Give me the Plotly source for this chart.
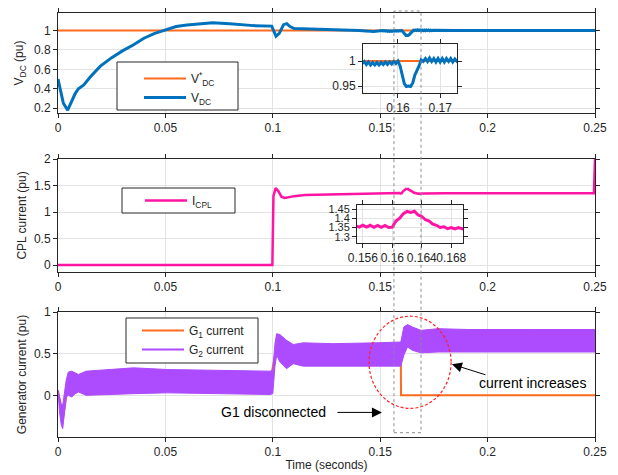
import plotly.graph_objects as go

W, H = 618, 475


def fx(p):
    return p / W


def fy(p):
    return 1 - p / H


# ---------------- data ----------------
vdc_ref_t = [0.0, 0.25]
vdc_ref_v = [1.0, 1.0]

vdc_t = [0.0000, 0.0010, 0.0025, 0.0045, 0.0060, 0.0080, 0.0095, 0.0120, 0.0150, 0.0196,
         0.0250, 0.0300, 0.0350, 0.0400, 0.0450, 0.0490, 0.0550, 0.0600, 0.0660, 0.0720,
         0.0800, 0.0910, 0.0995, 0.1005, 0.1015, 0.1030, 0.1050, 0.1065, 0.1080, 0.1100,
         0.1200, 0.1280, 0.1350, 0.1400, 0.1470,
         0.1500, 0.1505, 0.1510, 0.1515, 0.1520, 0.1525, 0.1530, 0.1535, 0.1540, 0.1545,
         0.1550, 0.1555, 0.1560, 0.1565, 0.1570, 0.1575, 0.1580, 0.1585, 0.1590, 0.1595,
         0.1600, 0.1605, 0.1610, 0.1615, 0.1620, 0.1625, 0.1630, 0.1635, 0.1640, 0.1645,
         0.1650, 0.1655, 0.1660, 0.1665, 0.1670, 0.1675, 0.1680, 0.1685, 0.1690, 0.1695,
         0.1700, 0.1705, 0.1710, 0.1715, 0.1720, 0.1725, 0.1730, 0.1735, 0.1740, 0.1750,
         0.1850, 0.2000, 0.2250, 0.2500]
vdc_v = [0.50, 0.40, 0.25, 0.18, 0.25, 0.35, 0.40, 0.44, 0.52, 0.63,
         0.72, 0.79, 0.85, 0.92, 0.97, 1.00, 1.04, 1.057, 1.07, 1.08,
         1.07, 1.05, 1.045, 1.00, 0.94, 0.97, 1.06, 1.07, 1.04, 1.02,
         1.015, 1.01, 1.005, 1.00, 0.99,
         0.999, 0.994, 1.000, 0.995, 0.999, 0.993, 0.998, 0.992, 0.997, 0.992,
         0.997, 0.992, 0.997, 0.993, 0.998, 0.993, 0.998, 0.994, 0.999, 0.995,
         1.000, 0.990, 0.972, 0.955, 0.949, 0.950, 0.949, 0.956, 0.972, 0.980,
         0.990, 1.002, 0.999, 1.005, 0.999, 1.006, 0.999, 1.005, 0.998, 1.005,
         0.998, 1.005, 0.998, 1.005, 0.999, 1.005, 0.998, 1.004, 0.999, 1.003,
         1.0, 1.0, 1.0, 1.0]

icpl_t = [0.0, 0.0998, 0.1003, 0.1013, 0.1025, 0.1040, 0.1055, 0.1070, 0.1100, 0.1150,
          0.1250, 0.1400, 0.1500,
          0.1550, 0.1555, 0.1560, 0.1565, 0.1570, 0.1575, 0.1580, 0.1585, 0.1590, 0.1595,
          0.1600, 0.1605, 0.1610, 0.1615, 0.1620, 0.1625, 0.1630, 0.1635, 0.1640, 0.1645,
          0.1650, 0.1655, 0.1660, 0.1665, 0.1670, 0.1675, 0.1680, 0.1685, 0.1690, 0.1695,
          0.1700, 0.1800, 0.2000, 0.2495, 0.2500]
icpl_v = [0.0, 0.0, 1.30, 1.45, 1.40, 1.29, 1.265, 1.28, 1.30, 1.32,
          1.33, 1.34, 1.35,
          1.360, 1.352, 1.362, 1.352, 1.362, 1.351, 1.361, 1.351, 1.361, 1.350,
          1.352, 1.385, 1.400, 1.425, 1.437, 1.432, 1.438, 1.418, 1.410, 1.392,
          1.385, 1.368, 1.362, 1.350, 1.354, 1.344, 1.350, 1.342, 1.350, 1.343,
          1.351, 1.355, 1.355, 1.355, 2.0]

g1_t = [0.0, 0.0022, 0.0048, 0.0987, 0.1018, 0.1100, 0.1596, 0.1597, 0.2500]
g1_v = [0.06, -0.30, 0.15, 0.15, 0.60, 0.50, 0.45, 0.0, 0.0]

g2_t = [0.0000, 0.0007, 0.0015, 0.0022, 0.0030, 0.0038, 0.0048, 0.0064, 0.0080, 0.0095,
        0.0131, 0.0196, 0.0352, 0.0507, 0.0740, 0.0987, 0.1000, 0.1010, 0.1018, 0.1033,
        0.1064, 0.1095, 0.1142, 0.1280, 0.1480, 0.1596, 0.1610, 0.1627, 0.1650, 0.1690,
        0.1770, 0.1907, 0.2217, 0.2500]
g2_upper = [0.06, 0.00, -0.10, -0.12, 0.05, 0.18, 0.28, 0.29, 0.27, 0.25,
            0.29, 0.30, 0.33, 0.31, 0.30, 0.29, 0.30, 0.62, 0.74, 0.73,
            0.66, 0.61, 0.63, 0.62, 0.63, 0.64, 0.82, 0.85, 0.82, 0.78,
            0.80, 0.79, 0.79, 0.79]
g2_lower = [0.06, -0.20, -0.35, -0.40, -0.25, -0.02, 0.00, -0.02, 0.02, 0.04,
            0.00, 0.01, 0.02, 0.03, 0.02, 0.01, 0.02, 0.35, 0.48, 0.40,
            0.32, 0.38, 0.35, 0.35, 0.35, 0.35, 0.48, 0.58, 0.54, 0.51,
            0.52, 0.52, 0.52, 0.52]

x_ticks = [0, 0.05, 0.1, 0.15, 0.2, 0.25]
x_ticktext = ["0", "0.05", "0.1", "0.15", "0.2", "0.25"]

# ---------------- colours ----------------
ORANGE = "#FF6A1F"
BLUE = "#0072BD"
MAGENTA = "#FF14A5"
PURPLE = "#AC4BFF"
AX = "#262626"
GRID = "#E3E3E3"
FONT = "Liberation Sans, Arial, sans-serif"

fig = go.Figure()

# top panel
fig.add_trace(go.Scatter(x=vdc_ref_t, y=vdc_ref_v, mode="lines", name="V<sup>*</sup><sub>DC</sub>",
                         line=dict(color=ORANGE, width=2), xaxis="x", yaxis="y", legend="legend"))
fig.add_trace(go.Scatter(x=vdc_t, y=vdc_v, mode="lines", name="V<sub>DC</sub>",
                         line=dict(color=BLUE, width=3), xaxis="x", yaxis="y", legend="legend"))
# middle panel
fig.add_trace(go.Scatter(x=icpl_t, y=icpl_v, mode="lines", name="I<sub>CPL</sub>",
                         line=dict(color=MAGENTA, width=2.5), xaxis="x2", yaxis="y2", legend="legend2"))
# bottom panel
fig.add_trace(go.Scatter(x=g1_t, y=g1_v, mode="lines", name="G<sub>1</sub> current",
                         line=dict(color=ORANGE, width=2), xaxis="x3", yaxis="y3", legend="legend3"))
fig.add_trace(go.Scatter(x=g2_t + g2_t[::-1], y=g2_upper + g2_lower[::-1], mode="lines",
                         fill="toself", fillcolor=PURPLE, line=dict(color=PURPLE, width=1),
                         showlegend=False, xaxis="x3", yaxis="y3", hoverinfo="skip"))
fig.add_trace(go.Scatter(x=[None], y=[None], mode="lines", name="G<sub>2</sub> current",
                         line=dict(color=PURPLE, width=2), xaxis="x3", yaxis="y3", legend="legend3"))
# insets
fig.add_trace(go.Scatter(x=vdc_ref_t, y=vdc_ref_v, mode="lines", showlegend=False,
                         line=dict(color=ORANGE, width=2), xaxis="x4", yaxis="y4"))
fig.add_trace(go.Scatter(x=vdc_t, y=vdc_v, mode="lines", showlegend=False,
                         line=dict(color=BLUE, width=3), xaxis="x4", yaxis="y4"))
fig.add_trace(go.Scatter(x=icpl_t, y=icpl_v, mode="lines", showlegend=False,
                         line=dict(color=MAGENTA, width=3), xaxis="x5", yaxis="y5"))

base = dict(showline=True, linecolor=AX, linewidth=1, mirror="ticks", ticks="outside",
            ticklen=4, tickcolor=AX, showgrid=True, gridcolor=GRID, gridwidth=1,
            zeroline=False, tickfont=dict(family=FONT, size=12, color=AX), tickangle=0,
            automargin=False)

xdom = [fx(58), fx(595)]
layout = dict(
    width=W, height=H, margin=dict(l=0, r=0, t=0, b=0, autoexpand=False),
    paper_bgcolor="white", plot_bgcolor="white",
    font=dict(family=FONT, size=12, color=AX),
    xaxis=dict(base, domain=xdom, range=[0, 0.25], anchor="y", tickvals=x_ticks, ticktext=x_ticktext),
    yaxis=dict(base, domain=[fy(113), fy(13)], range=[0.15, 1.18], anchor="x",
               tickvals=[0.2, 0.4, 0.6, 0.8, 1], ticktext=["0.2", "0.4", "0.6", "0.8", "1"],
               title=dict(text="V<sub>DC</sub> (pu)", standoff=7, font=dict(size=12))),
    xaxis2=dict(base, domain=xdom, range=[0, 0.25], anchor="y2", tickvals=x_ticks, ticktext=x_ticktext),
    yaxis2=dict(base, domain=[fy(272), fy(159)], range=[-0.13, 2.0], anchor="x2",
                tickvals=[0, 0.5, 1, 1.5, 2], ticktext=["0", "0.5", "1", "1.5", "2"],
                title=dict(text="CPL current (pu)", standoff=4, font=dict(size=12))),
    xaxis3=dict(base, domain=xdom, range=[0, 0.25], anchor="y3", tickvals=x_ticks, ticktext=x_ticktext,
                title=dict(text="Time (seconds)", standoff=2, font=dict(size=12))),
    yaxis3=dict(base, domain=[fy(437), fy(312)], range=[-0.5, 1.0], anchor="x3",
                tickvals=[0, 0.5, 1], ticktext=["0", "0.5", "1"],
                title=dict(text="Generator current (pu)", standoff=4, font=dict(size=12))),
    xaxis4=dict(base, domain=[fx(363), fx(457)], range=[0.1517, 0.1740], anchor="y4",
                tickvals=[0.16, 0.17], ticktext=["0.16", "0.17"]),
    yaxis4=dict(base, domain=[fy(93), fy(44)], range=[0.936, 1.034], anchor="x4",
                tickvals=[0.95, 1], ticktext=["0.95", "1"]),
    xaxis5=dict(base, domain=[fx(357), fx(463)], range=[0.1552, 0.1696], anchor="y5",
                tickvals=[0.156, 0.16, 0.164, 0.168], ticktext=["0.156", "0.16", "0.164", "0.168"]),
    yaxis5=dict(base, domain=[fy(243), fy(205)], range=[1.266, 1.472], anchor="x5",
                tickvals=[1.3, 1.35, 1.4, 1.45], ticktext=["1.3", "1.35", "1.4", "1.45"]),
)
layout["yaxis5"]["tickfont"] = dict(family=FONT, size=11, color=AX)

leg = dict(bgcolor="rgba(0,0,0,0)", borderwidth=0, xanchor="left", yanchor="top",
           itemwidth=42, font=dict(family=FONT, size=12, color=AX), tracegroupgap=0)
layout["legend"] = dict(leg, x=fx(139), y=fy(64))
layout["legend2"] = dict(leg, x=fx(140), y=fy(186))
layout["legend3"] = dict(leg, x=fx(137), y=fy(316))

shapes = [
    # legend boxes
    dict(type="rect", xref="paper", yref="paper", x0=fx(117), x1=fx(238), y0=fy(110), y1=fy(62),
         fillcolor="white", line=dict(color=AX, width=1), layer="above"),
    dict(type="rect", xref="paper", yref="paper", x0=fx(122), x1=fx(235), y0=fy(213), y1=fy(188),
         fillcolor="white", line=dict(color=AX, width=1), layer="above"),
    dict(type="rect", xref="paper", yref="paper", x0=fx(126), x1=fx(258), y0=fy(363), y1=fy(318),
         fillcolor="white", line=dict(color=AX, width=1), layer="above"),
    # zoom window rectangle
    dict(type="rect", xref="x", yref="paper", x0=0.1564, x1=0.1690, y0=fy(432.7), y1=fy(11),
         line=dict(color="#8C8C8C", width=1, dash="3px,3px"), fillcolor="rgba(0,0,0,0)", layer="above"),
    # red ellipse
    dict(type="circle", xref="x3", yref="y3", x0=0.1448, x1=0.1830, y0=-0.157, y1=0.95,
         line=dict(color="#FF2020", width=1.2, dash="3px,2px"), layer="above"),
]
layout["shapes"] = shapes

annotations = [
    dict(xref="x3", yref="y3", x=0.2207, y=0.145, text="current increases", showarrow=False,
         font=dict(family=FONT, size=14, color="black")),
    dict(xref="x3", yref="y3", x=0.1834, y=0.373, ax=0.1997, ay=0.241, axref="x3", ayref="y3",
         text="", showarrow=True, arrowhead=2, arrowsize=2, arrowwidth=1, arrowcolor="black"),
    dict(xref="x3", yref="y3", x=0.1001, y=-0.205, text="G1 disconnected", showarrow=False,
         font=dict(family=FONT, size=14, color="black")),
    dict(xref="x3", yref="y3", x=0.1508, y=-0.205, ax=0.1294, ay=-0.205, axref="x3", ayref="y3",
         text="", showarrow=True, arrowhead=2, arrowsize=2, arrowwidth=1, arrowcolor="black"),
]
layout["annotations"] = annotations

fig.update_layout(**layout)
fig.write_html("out.html", config={"displayModeBar": False},
               post_script="document.body.style.margin='0px';")
